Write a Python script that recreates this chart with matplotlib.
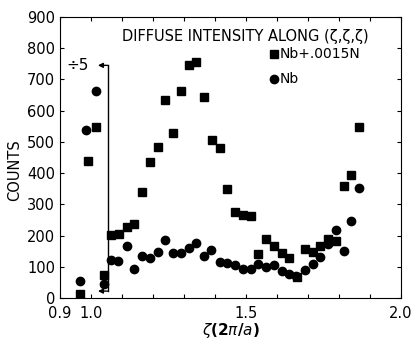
import numpy as np
import matplotlib
matplotlib.use("Agg")
from matplotlib import pyplot as plt

# zeta positions (2pi/a)
zeta = [0.965, 0.99, 1.015, 1.04, 1.065, 1.09, 1.115, 1.14, 1.165, 1.19,
        1.215, 1.24, 1.265, 1.29, 1.315, 1.34, 1.365, 1.39, 1.415, 1.44,
        1.465, 1.49, 1.515, 1.54, 1.565, 1.59, 1.615, 1.64, 1.665, 1.69,
        1.715, 1.74, 1.765, 1.79, 1.815, 1.84, 1.865]
zeta_nb = [0.965, 0.983, 1.015, 1.04, 1.065, 1.087, 1.115, 1.14, 1.165, 1.19,
           1.215, 1.24, 1.265, 1.29, 1.315, 1.34, 1.365, 1.388, 1.415, 1.44,
           1.465, 1.49, 1.515, 1.54, 1.565, 1.59, 1.615, 1.64, 1.663, 1.69,
           1.715, 1.74, 1.765, 1.79, 1.815, 1.84, 1.865]

# Nb + .0015N counts
counts_nbn = [14, 440, 547, 72, 203, 206, 228, 238, 338, 437,
              484, 635, 527, 662, 746, 755, 643, 507, 481, 348,
              275, 267, 264, 140, 190, 167, 143, 129, 66, 157,
              147, 165, 190, 184, 360, 395, 547]
# pure Nb counts
counts_nb = [53, 539, 664, 45, 123, 120, 168, 93, 136, 128,
             147, 187, 144, 144, 160, 177, 136, 154, 116, 113,
             105, 94, 92, 108, 98, 105, 85, 76, 70, 89,
             110, 131, 174, 217, 150, 247, 351]

xticks = [0.9, 1.0, 1.1, 1.2, 1.3, 1.4, 1.5, 1.6, 1.7, 1.8, 1.9, 2.0]
xticklabels = ["0.9", "1.0", "", "", "", "", "1.5", "", "", "", "", "2.0"]

fig = plt.figure(figsize=(4.12, 3.39), dpi=100)
ax = fig.add_axes([0.146, 0.121, 0.827, 0.829])

ax.plot(zeta, counts_nbn, "s", color="black", markersize=5.5)
ax.plot(zeta_nb, counts_nb, "o", color="black", markersize=6)

ax.set_xlim(0.9, 2.0)
ax.set_ylim(0, 900)
ax.set_xticks(xticks)
ax.set_xticklabels(xticklabels)
ax.set_yticks(range(0, 901, 100))
ax.tick_params(direction="in", top=True, right=True, labelsize=10.5, length=3)
ax.tick_params(axis="x", pad=6)
ax.set_ylabel("COUNTS", fontsize=10.5)
ax.yaxis.set_label_coords(-0.113, 0.455)
ax.set_xlabel(r"$\zeta$(2$\pi$/$a$)", fontsize=11, fontweight="bold", labelpad=0)

# divide-by-5 bracket
ax.plot([1.053, 1.053], [22, 745], color="black", lw=1)
arrow = dict(arrowstyle="-|>", color="black", lw=1, mutation_scale=7,
             shrinkA=0, shrinkB=0)
ax.annotate("", xy=(1.022, 745), xytext=(1.053, 745), arrowprops=arrow)
ax.annotate("", xy=(1.022, 22), xytext=(1.053, 22), arrowprops=arrow)
ax.text(0.92, 745, "÷5", fontsize=11, va="center", ha="left")

ax.text(1.1, 838, "DIFFUSE INTENSITY ALONG (ζ,ζ,ζ)", fontsize=10.5, va="center")
ax.plot([1.59], [782], "s", color="black", markersize=5.5)
ax.text(1.607, 782, "Nb+.0015N", fontsize=10, va="center")
ax.plot([1.59], [702], "o", color="black", markersize=6)
ax.text(1.607, 702, "Nb", fontsize=10, va="center")

fig.savefig("out.png", dpi=100)
